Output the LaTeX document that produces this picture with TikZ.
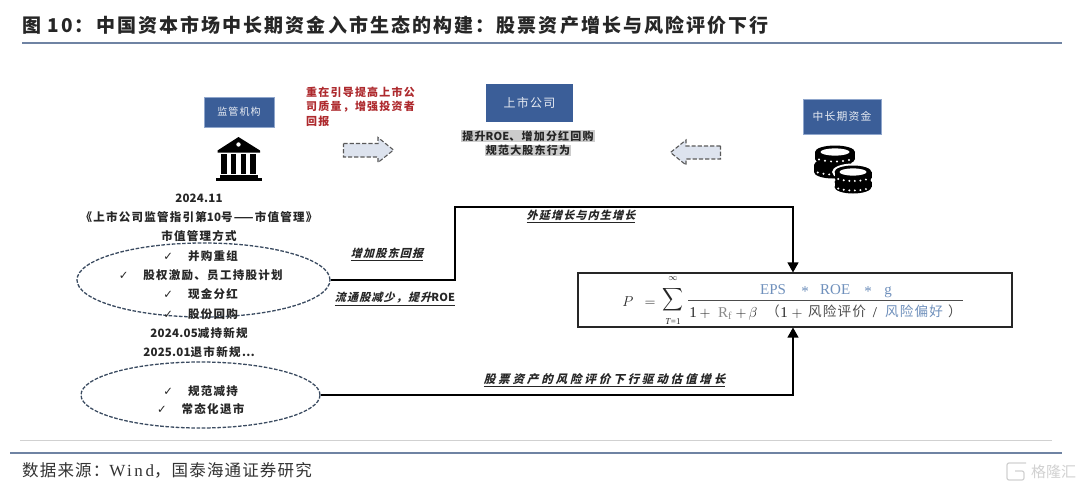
\documentclass[tikz,border=0pt]{standalone}
\usepackage{fontspec}
\usepackage{amsmath}
\usepackage{graphicx}
\usetikzlibrary{arrows.meta,shapes.geometric}
\setmainfont{Noto Sans CJK SC}
\newfontfamily\bodyf[LetterSpace=11]{Noto Sans CJK SC}
\newfontfamily\numf[LetterSpace=2]{Noto Sans CJK SC}
\newfontfamily\titlef[LetterSpace=11]{Noto Sans CJK SC}
\newfontfamily\itf[FakeSlant=0.25,LetterSpace=11]{Noto Sans CJK SC}
\newfontfamily\itwidef[FakeSlant=0.25,LetterSpace=25]{Noto Sans CJK SC}
\newfontfamily\srcf[LetterSpace=7]{Noto Sans CJK SC}
\newfontfamily\fmf[LetterSpace=8]{Noto Sans CJK SC}
\newfontfamily\latinf{Liberation Serif}
\newfontfamily\latinw[LetterSpace=15]{Liberation Serif}
\newfontfamily\chk{DejaVu Sans}
\definecolor{bluebox}{HTML}{3B5E98}
\definecolor{boxedge}{HTML}{8FA6CC}
\definecolor{rule}{HTML}{6F83A3}
\definecolor{redcol}{HTML}{AE2A2E}
\definecolor{fblue}{HTML}{6F90BC}
\definecolor{fgrey}{HTML}{8A8A8A}
\definecolor{arrfill}{HTML}{DDE3EE}
\definecolor{elcol}{HTML}{3A4A60}
\newcommand{\tick}[1]{\makebox[0pt][r]{{\chk\char"2713}\hspace{15pt}}#1}
\tikzset{
  bodytxt/.style={font=\bodyf\bfseries\fontsize{11.5}{13}\selectfont,text=black!85,inner sep=0pt,anchor=center},
  boxlbl/.style={draw=boxedge,line width=0.6pt,fill=bluebox,text=white!88!bluebox,inner sep=0pt,font=\bodyf\fontsize{10}{12}\selectfont},
  redlbl/.style={font=\bodyf\bfseries\fontsize{11}{13}\selectfont,text=redcol,inner sep=0pt,anchor=west},
  itlbl/.style={font=\itf\bfseries\fontsize{11}{13}\selectfont,text=black!85,inner sep=0pt},
  greytxt/.style={font=\bodyf\bfseries\fontsize{11}{13}\selectfont,text=black!85,fill=black!20,inner xsep=1pt,inner ysep=0.6pt},
  dashel/.style={draw=elcol,line width=1.3pt,dash pattern=on 3.6pt off 1.6pt},
  flow/.style={draw=black,line width=1.2pt},
  flowarr/.style={flow,-{Triangle[length=10pt,width=11pt]}},
  blockarrow/.style={draw=black!65,fill=arrfill,line width=1.1pt,dash pattern=on 4.2pt off 2pt},
  fmtxt/.style={inner sep=0pt,anchor=base west,font=\latinf\fontsize{15}{17}\selectfont,text=black!85},
  fmcjk/.style={inner sep=0pt,anchor=base west,font=\fmf\fontsize{13.6}{16}\selectfont,text=black!70},
}
\newcommand{\coinpic}[4]{% cx, cy top, rx, thick
  \fill[black] (#1,#2) ellipse[x radius=#3,y radius=6.5];
  \fill[black] (#1,#2+#4) ellipse[x radius=#3,y radius=6.5];
  \fill[black] (#1-#3,#2) rectangle (#1+#3,#2+#4);
  \foreach \i in {-0.8,-0.5,-0.2,0.1,0.4,0.7}{
    \fill[white] ({#1+\i*#3},{#2+#4/2+1+5*sqrt(1-\i*\i)}) circle[radius=1.1];
  }
}
\begin{document}
\begin{tikzpicture}[x=1pt,y=-1pt]
\useasboundingbox (0,0) rectangle (1080,485);
\fill[white] (0,0) rectangle (1080,485);
% title
\node[anchor=west,inner sep=0pt,font=\titlef\bfseries\fontsize{19}{22}\selectfont,text=black!85] (title) at (22,25) {图 10：中国资本市场中长期资金入市生态的构建：股票资产增长与风险评价下行};
\draw[rule,line width=1.1pt] (22,43) -- (1062,43);
% top boxes
\node[boxlbl,minimum width=70pt,minimum height=30pt] (reg) at (239,112) {监管机构};
\node[boxlbl,draw=none,minimum width=87pt,minimum height=38pt,font=\bodyf\fontsize{12}{14}\selectfont] (co) at (529.5,103) {上市公司};
\node[boxlbl,minimum width=78pt,minimum height=35pt,font=\bodyf\fontsize{10.8}{13}\selectfont] (fund) at (842,116.5) {中长期资金};
% red text
\node[redlbl] (r1) at (306,92) {重在引导提高上市公};
\node[redlbl] (r2) at (306,107) {司质量，增强投资者};
\node[redlbl] (r3) at (306,121) {回报};
% grey text
\node[greytxt] (g1) at (528,136) {提升{\numf ROE}、增加分红回购};
\node[greytxt] (g2) at (528,150.5) {规范大股东行为};
% block arrows
\draw[blockarrow] (343.5,143.5) -- (378,143.5) -- (378,137.5) -- (393.5,150) -- (378,162.5) -- (378,157) -- (343.5,157) -- cycle;
\draw[blockarrow] (720.5,146) -- (686,146) -- (686,140) -- (670.5,152.5) -- (686,165) -- (686,159) -- (720.5,159) -- cycle;
% bank icon
\fill[black] (238.5,137) -- (260,150.5) -- (260,152.5) -- (217.5,152.5) -- (217.5,150.5) -- cycle;
\fill[white] (238.5,144.5) circle[radius=2.2];
\foreach \cx in {224,233.5,243.5,253}{\fill[black] (\cx-2.6,154) rectangle (\cx+2.6,174);}
\fill[black] (220,175) rectangle (258,177.5);
\fill[black] (216,178) rectangle (262,181);
% coins
\coinpic{833}{165}{19}{7}
\coinpic{835}{152}{20}{7}
\fill[white] (835,152) ellipse[x radius=14.5,y radius=3.6];
\fill[white] (853,172) ellipse[x radius=21,y radius=8.5];
\coinpic{853}{182}{18.5}{5}
\coinpic{853}{172}{18.5}{6}
\fill[white] (853,172) ellipse[x radius=13.5,y radius=3.6];
% policy text
\node[bodytxt] (d1) at (199,198) {{\numf 2024.11}};
\node[bodytxt] (d2) at (199,217) {《上市公司监管指引第{\numf 10}号——市值管理》};
\node[bodytxt] (d3) at (199,236) {市值管理方式};
\node[dashel,ellipse,minimum width=253pt,minimum height=74pt,inner sep=0pt] (e1) at (203.5,280) {};
\node[bodytxt] (t1) at (213,256) {\tick{}并购重组};
\node[bodytxt] (t2) at (213,275) {\tick{}股权激励、员工持股计划};
\node[bodytxt] (t3) at (213,294) {\tick{}现金分红};
\node[bodytxt] (t4) at (213,314) {\tick{}股份回购};
\node[bodytxt] (d4) at (199,333) {{\numf 2024.05}减持新规};
\node[bodytxt] (d5) at (199,352) {{\numf 2025.01}退市新规…};
\node[dashel,ellipse,minimum width=239pt,minimum height=66pt,inner sep=0pt] (e2) at (200.5,395) {};
\node[bodytxt] (t5) at (213,391) {\tick{}规范减持};
\node[bodytxt] (t6) at (213,409) {\tick{}常态化退市};
% formula box
\node[draw=black!85,line width=1.1pt,minimum width=434pt,minimum height=54pt,inner sep=0pt] (fbox) at (795,300) {};
\node[fmtxt,anchor=base] (fP) at (628,306) {$P$};
\node[fmtxt,anchor=base] (feq) at (650,306) {$=$};
\node[inner sep=0pt,text=black!85] (fsum) at (673,300) {\scalebox{1.45}[1.6]{$\displaystyle\sum$}};
\node[inner sep=0pt,text=black!85,font=\fontsize{9}{11}\selectfont] (finf) at (673,278.5) {$\infty$};
\node[inner sep=0pt,text=black!85,font=\latinf\fontsize{9}{11}\selectfont] (fT) at (673,321.5) {\textit{T}=1};
\draw[black!70,line width=0.8pt] (688,300.7) -- (963,300.7);
\node[fmtxt,text=fblue] (n1) at (760,294) {EPS};
\node[fmtxt,text=fblue,anchor=base] (n2) at (805,296) {*};
\node[fmtxt,text=fblue] (n3) at (820,294) {ROE};
\node[fmtxt,text=fblue,anchor=base] (n4) at (868,296) {*};
\node[fmtxt,text=fblue,anchor=base] (n5) at (888,294) {g};
\node[fmtxt,anchor=base] (m1) at (693,317) {1};
\node[fmtxt,anchor=base] (m2) at (705,317) {$+$};
\node[fmtxt,text=fgrey] (m3) at (718,317) {R\textsubscript{f}};
\node[fmtxt,anchor=base] (m4) at (741,317) {$+$};
\node[fmtxt,anchor=base] (m5) at (753,317) {$\beta$};
\node[fmcjk,anchor=base] (m6) at (773,316) {（};
\node[fmtxt,anchor=base] (m7) at (784,317) {1};
\node[fmtxt,anchor=base] (m8) at (797,317) {$+$};
\node[fmcjk] (m9) at (808,316) {风险评价};
\node[fmtxt,anchor=base] (m10) at (875,317) {/};
\node[fmcjk,text=fblue] (m11) at (885,316) {风险偏好};
\node[fmcjk,anchor=base] (m12) at (955,316) {）};
% connectors
\coordinate (c2) at (455,207);
\coordinate (c3) at (793,207);
\draw[flowarr] (e1.east) -- (c2 |- e1.east) -- (c2) -- (c3) -- (c3 |- fbox.north);
\draw[flowarr] (e2.east) -- (c3 |- e2.east) -- (c3 |- fbox.south);
% italic labels
\node[itlbl] (l1) at (387,254) {\underline{增加股东回报}};
\node[itlbl] (l2) at (395,299) {\underline{流通股减少，提升{\numf ROE}}};
\node[itlbl] (l3) at (581,216) {\underline{外延增长与内生增长}};
\node[itlbl,font=\itwidef\bfseries\fontsize{11.5}{13}\selectfont] (l4) at (604.5,380) {\underline{股票资产的风险评价下行驱动估值增长}};
% footer
\draw[black!18,line width=1.1pt] (20,440.5) -- (1052,440.5);
\draw[rule,line width=1.1pt] (10,453) -- (1062,453);
\node[anchor=west,inner sep=0pt,font=\srcf\fontsize{16.5}{19}\selectfont,text=black!80] (src) at (22,470) {数据来源：{\latinw\fontsize{17}{19}\selectfont Wind}，国泰海通证券研究};
% watermark
\draw[black!18,line width=1.2pt,rounded corners=2pt] (1026,463) -- (1007,463) -- (1007,480) -- (1024,480) -- (1024,471) -- (1015,471);
\node[anchor=west,inner sep=0pt,font=\fontsize{15}{17}\selectfont,text=black!18] (wm) at (1031,471.5) {格隆汇};
\end{tikzpicture}
\end{document}
